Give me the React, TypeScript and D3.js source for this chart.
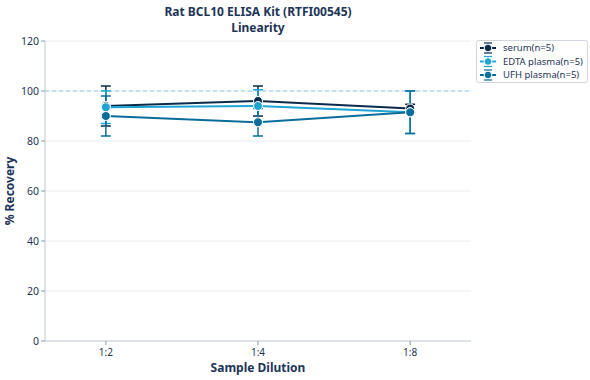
import React from "react";
import * as d3 from "d3";

const categories = ["1:2", "1:4", "1:8"];
const seriesNames = ["serum(n=5)", "EDTA plasma(n=5)", "UFH plasma(n=5)"];
const serumMean = [94, 96, 93];
const serumErr = [8, 6, 1.7];
const edtaMean = [93.5, 94, 91.5];
const edtaErr = [6.5, 6.5, 8.5];
const ufhMean = [90, 87.5, 91.5];
const ufhErr = [8, 5.5, 8.5];
const yTicks = [0, 20, 40, 60, 80, 100, 120];
const colors = ["#0c2a4a", "#1fa5d5", "#0b6d9b"];

const series = [
  { name: seriesNames[0], mean: serumMean, err: serumErr, color: colors[0] },
  { name: seriesNames[1], mean: edtaMean, err: edtaErr, color: colors[1] },
  { name: seriesNames[2], mean: ufhMean, err: ufhErr, color: colors[2] },
];

export default function App() {
  const W = 590, H = 380;
  const left = 45, right = 471, top = 41, bottom = 341;
  const x = d3.scalePoint<string>().domain(categories).range([left, right]).padding(0.4);
  const y = d3.scaleLinear().domain([0, 120]).range([bottom, top]);
  const line = d3.line<number>().x((_, i) => x(categories[i])!).y((d) => y(d));
  const font = "'Noto Sans', 'Open Sans', sans-serif";
  const textColor = "#1d3557";
  const capW = 5;
  const cx0 = (left + right) / 2;

  return (
    <svg width={W} height={H} style={{ position: "absolute", left: 0, top: 0, fontFamily: font }}>
      <rect width={W} height={H} fill="#fff" />
      {yTicks.map((t) => (
        <line key={t} x1={left} x2={right} y1={y(t)} y2={y(t)} stroke="#e6eaef" strokeWidth={1} />
      ))}
      <line x1={left} x2={right} y1={y(100)} y2={y(100)} stroke="#8fd0e4" strokeWidth={1} strokeDasharray="4,3" />
      <line x1={left} x2={left} y1={top} y2={bottom} stroke="#c8d0da" strokeWidth={1.2} />
      <line x1={left} x2={right} y1={bottom} y2={bottom} stroke="#c8d0da" strokeWidth={1.2} />
      {yTicks.map((t) => (
        <g key={t}>
          <line x1={left - 4} x2={left} y1={y(t)} y2={y(t)} stroke="#8a98a8" />
          <text x={left - 6} y={y(t)} dy="0.35em" textAnchor="end" fontSize={10.5} fill={textColor}>{t}</text>
        </g>
      ))}
      {categories.map((c) => (
        <g key={c}>
          <line x1={x(c)} x2={x(c)} y1={bottom} y2={bottom + 4} stroke="#8a98a8" />
          <text x={x(c)} y={bottom + 15} textAnchor="middle" fontSize={10} fill={textColor}>{c}</text>
        </g>
      ))}
      <text x={cx0} y={371.5} textAnchor="middle" fontSize={12} fontWeight="bold" fill={textColor}>Sample Dilution</text>
      <text transform={`translate(14,${(top + bottom) / 2}) rotate(-90)`} textAnchor="middle" fontSize={12} fontWeight="bold" fill={textColor}>% Recovery</text>
      <text x={cx0} y={15.5} textAnchor="middle" fontSize={12} fontWeight="bold" fill={textColor}>Rat BCL10 ELISA Kit (RTFI00545)</text>
      <text x={cx0} y={31.5} textAnchor="middle" fontSize={12} fontWeight="bold" fill={textColor}>Linearity</text>
      {series.map((s) => (
        <g key={s.name}>
          <path d={line(s.mean)!} fill="none" stroke={s.color} strokeWidth={2} />
          {s.mean.map((m, i) => {
            const cx = x(categories[i])!;
            const y1 = y(m + s.err[i]);
            const y2 = y(m - s.err[i]);
            return (
              <g key={i}>
                <line x1={cx} x2={cx} y1={y1} y2={y2} stroke={s.color} strokeWidth={1.5} />
                <line x1={cx - capW} x2={cx + capW} y1={y1} y2={y1} stroke={s.color} strokeWidth={1.5} />
                <line x1={cx - capW} x2={cx + capW} y1={y2} y2={y2} stroke={s.color} strokeWidth={1.5} />
              </g>
            );
          })}
        </g>
      ))}
      {series.map((s) => (
        <g key={s.name + "m"}>
          {s.mean.map((m, i) => (
            <circle key={i} cx={x(categories[i])} cy={y(m)} r={4.5} fill={s.color} stroke="#fff" strokeWidth={1} />
          ))}
        </g>
      ))}
      <rect x={476.5} y={40.5} width={111} height={42} fill="#fff" stroke="#d0d7df" rx={2} />
      {series.map((s, i) => {
        const ly = 48 + i * 13.5;
        return (
          <g key={s.name + "l"}>
            <line x1={480} x2={496} y1={ly} y2={ly} stroke={s.color} strokeWidth={2} />
            <line x1={488} x2={488} y1={ly - 5} y2={ly + 5} stroke={s.color} strokeWidth={1.2} />
            <line x1={484} x2={492} y1={ly - 5} y2={ly - 5} stroke={s.color} strokeWidth={1.2} />
            <line x1={484} x2={492} y1={ly + 5} y2={ly + 5} stroke={s.color} strokeWidth={1.2} />
            <circle cx={488} cy={ly} r={3.8} fill={s.color} stroke="#fff" strokeWidth={1} />
            <text x={503} y={ly} dy="0.35em" fontSize={9.5} fill={textColor}>{s.name}</text>
          </g>
        );
      })}
    </svg>
  );
}
